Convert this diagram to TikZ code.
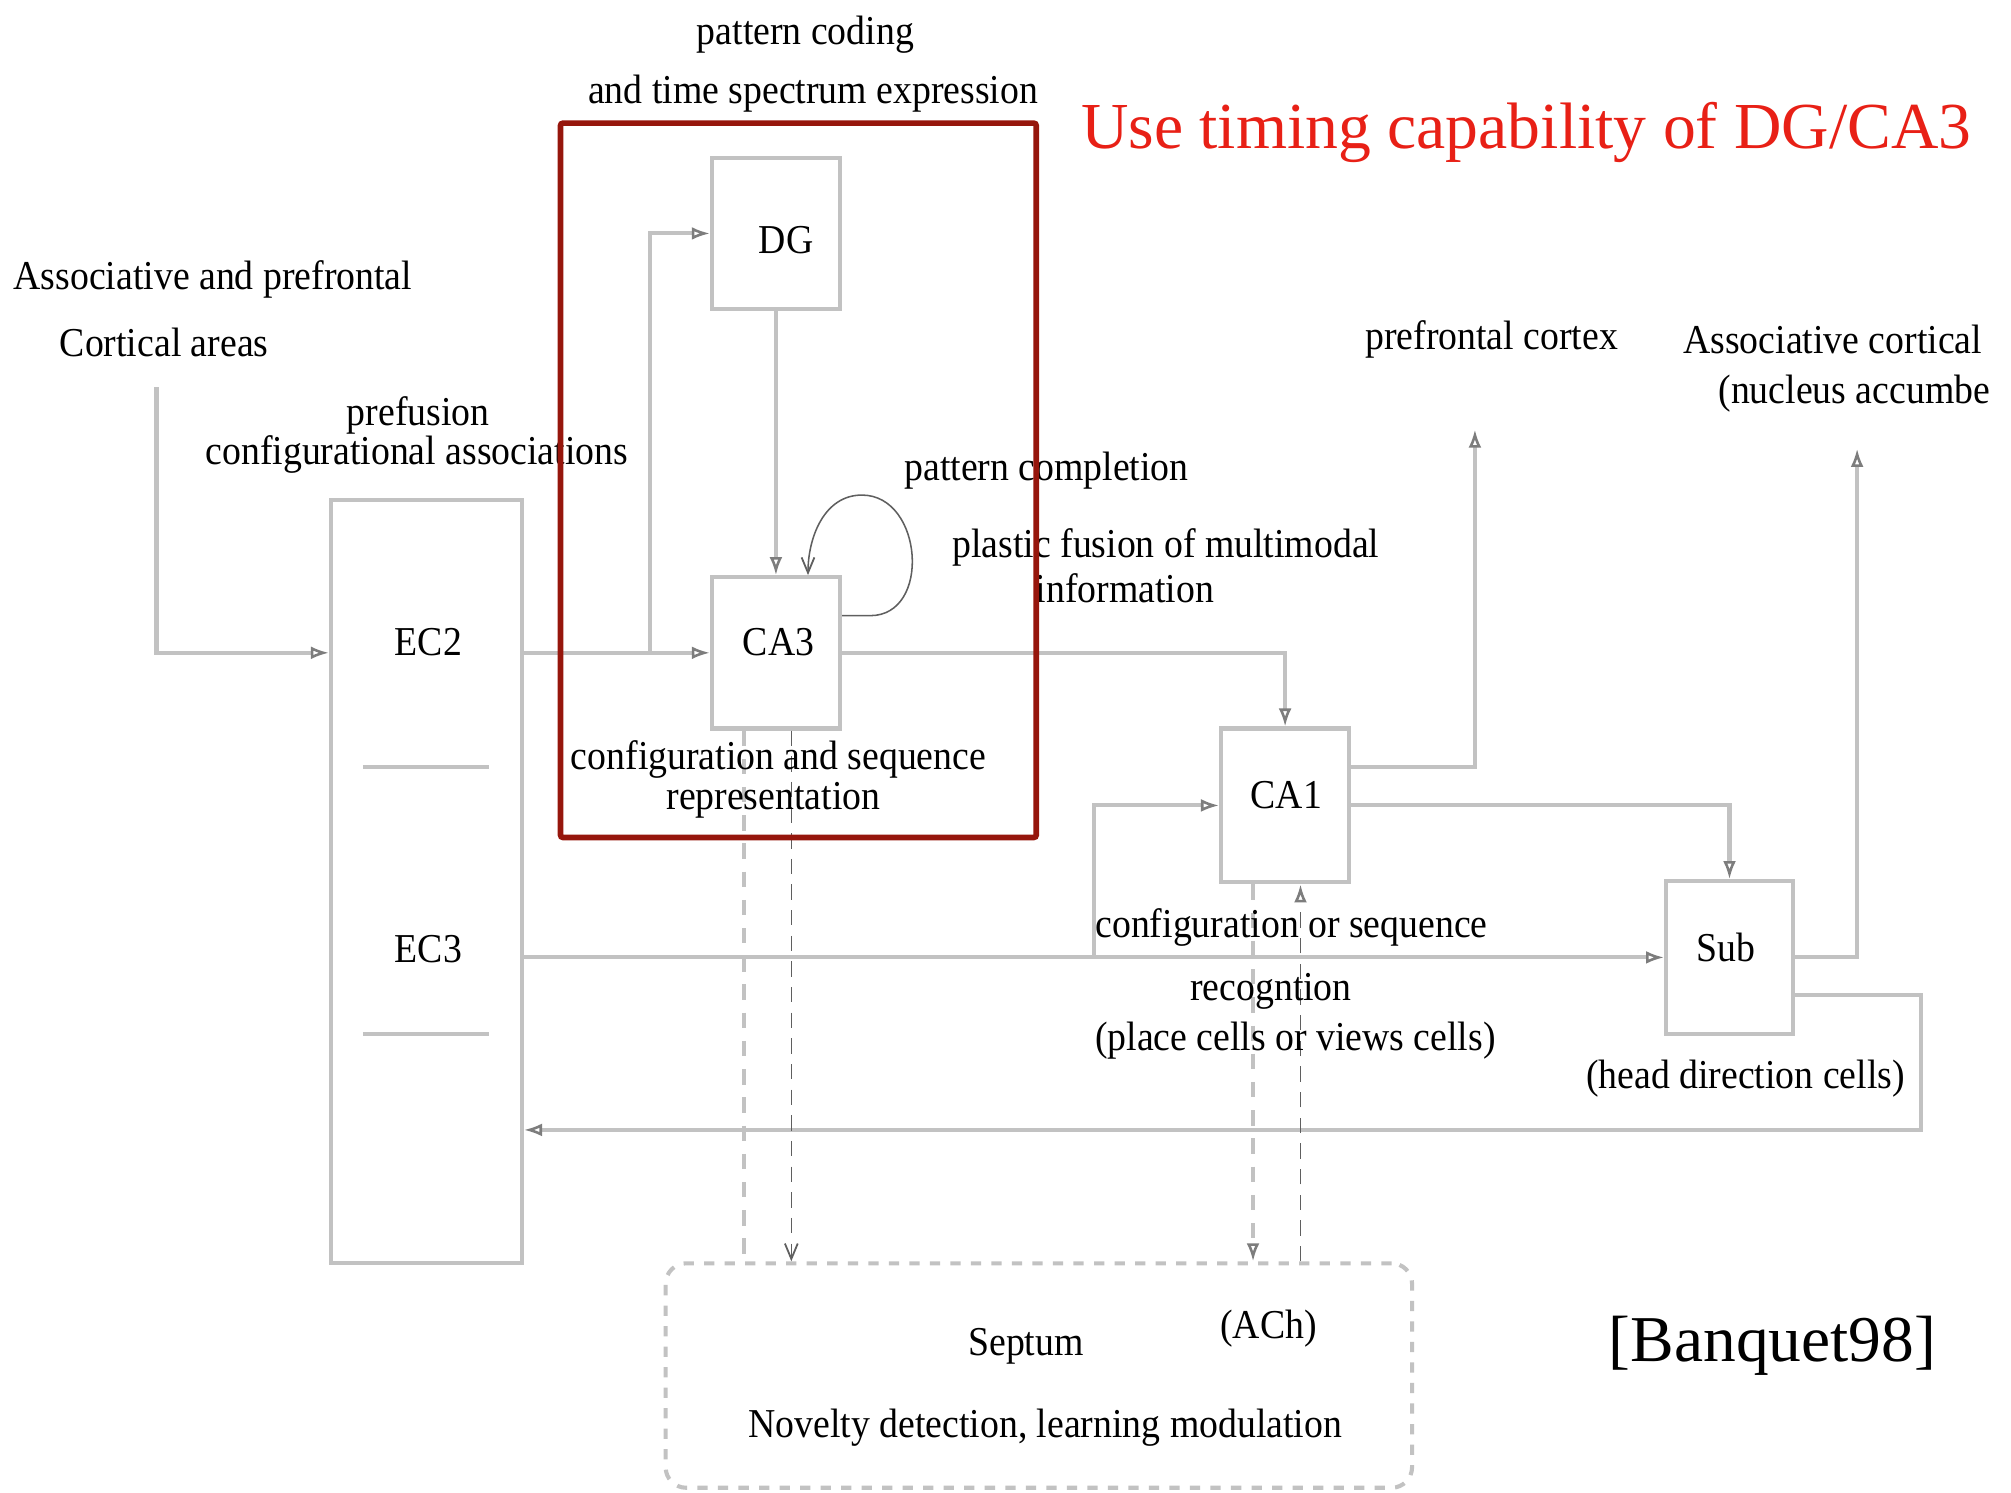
\documentclass[tikz,border=0pt]{standalone}
\usepackage{fontspec}
\setmainfont{Liberation Serif}[FakeStretch=0.92]
\newfontfamily\headfont{Liberation Serif}
\usetikzlibrary{arrows.meta,calc}
\definecolor{linegray}{RGB}{194,194,194}
\definecolor{tipgray}{RGB}{125,125,125}
\definecolor{loopgray}{RGB}{95,95,95}
\definecolor{boxred}{RGB}{150,22,12}
\definecolor{titlered}{RGB}{232,32,22}
\tikzset{
  region/.style={draw=linegray, line width=1.6pt, inner sep=0pt},
  lbl/.style={font=\fontsize{16}{18}\selectfont, inner sep=0pt, text=black, yshift=-1.5pt},
  wire/.style={draw=linegray, line width=1.6pt},
  feed/.style={wire, -{Latex[open, length=7pt, width=5pt, color=tipgray, line width=1pt]}},
  coarsedash/.style={draw=linegray, line width=1.7pt, dash pattern=on 6pt off 5pt},
  finedash/.style={draw=loopgray, line width=0.6pt, dash pattern=on 6pt off 4pt},
  barb/.style={-{Straight Barb[length=6pt, width=5pt, line width=0.7pt]}},
  bigtip/.style={-{Latex[open, length=7pt, width=5pt, color=tipgray, line width=1pt]}},
}
\begin{document}
\begin{tikzpicture}[x=0.5pt, y=-0.5pt]
\useasboundingbox (0,0) rectangle (1568,1164);

% processing stages
\node[region, minimum width=50pt, minimum height=59pt] (DG) at (605,182) {};
\node[region, minimum width=50pt, minimum height=59pt] (CA3) at (605,509) {};
\node[region, minimum width=74.5pt, minimum height=297.5pt] (EC) at (332.5,687.5) {};
\node[region, minimum width=50pt, minimum height=60pt] (CA1) at (1002,628) {};
\node[region, minimum width=49.5pt, minimum height=59.5pt] (Sub) at (1348.5,746.5) {};
\node[draw=linegray, line width=1.6pt, dash pattern=on 4pt off 4pt, rounded corners=8pt,
      minimum width=291pt, minimum height=87.5pt, inner sep=0pt] (Septum) at (810,1072.5) {};

% layer separators of the entorhinal cortex
\draw[wire] (283,598) -- (381,598);
\draw[wire] (283,806) -- (381,806);

% free ends and branch points
\coordinate (cortexsrc) at (122,302);
\coordinate (split) at (507,509);
\coordinate (split2) at (853,746.5);
\coordinate (pfc) at (1150,335);
\coordinate (acx) at (1448,350);
\coordinate (retx) at (1498,881);

% main pathways
\draw[feed] (cortexsrc) |- (EC.west |- CA3.west);
\draw[feed] (EC.east |- CA3.west) -- (CA3.west);
\draw[feed] (split) |- (DG.west);
\draw[feed] (DG.south) -- (CA3.north);
\draw[feed] (CA3.east) -| (CA1.north);
\draw[feed] ($(CA1.east)+(0,-30)$) -| (pfc);
\draw[feed] (CA1.east) -| (Sub.north);
\draw[feed] (EC.east |- Sub.west) -- (Sub.west);
\draw[feed] (split2) |- (CA1.west);
\draw[feed] (Sub.east) -| (acx);
\draw[feed] ($(Sub.east)+(0,29.5)$) -| (retx) -- (EC.east |- retx);

% recurrent collaterals of CA3
\coordinate (loopout) at ($(CA3.east)+(0,-29)$);
\coordinate (loopin) at ($(CA3.north)+(25,0)$);
\coordinate (looptop) at (672,386);
\draw[loopgray, line width=0.6pt, barb] (loopout) -- ++(22,0)
  to[out=0, in=0, looseness=1.3] (looptop) to[out=180, in=90] (loopin);

% septal links
\coordinate (a1) at ($(CA3.south)+(-25,0)$);
\coordinate (a2) at ($(CA3.south)+(12,0)$);
\coordinate (b1) at ($(CA1.south)+(-25,0)$);
\coordinate (b2) at ($(CA1.south)+(12,0)$);
\draw[coarsedash] (a1) -- (a1 |- Septum.north);
\draw[finedash, barb] (a2) -- (a2 |- Septum.north);
\draw[coarsedash, bigtip] (b1) -- (b1 |- Septum.north);
\draw[finedash, bigtip] (b2 |- Septum.north) -- (b2);

% stage names
\node[lbl] (tDG) at (613,184) {DG};
\node[lbl] (tCA3) at (607,498) {CA3};
\node[lbl] (tCA1) at (1003,617) {CA1};
\node[lbl] (tSub) at (1346,736) {Sub};
\node[lbl] (tEC2) at (334,498) {EC2};
\node[lbl] (tEC3) at (334,737) {EC3};
\node[lbl] (tSep) at (800,1047) {Septum};
\node[lbl] (tACh) at (989,1033) {(ACh)};
\node[lbl] (tNov) at (815,1110) {Novelty detection, learning modulation};

% annotations
\node[lbl] (n1) at (628,24) {pattern coding};
\node[lbl] (n2) at (634,70) {and time spectrum expression};
\node[lbl] (n3) at (166,215) {Associative and prefrontal};
\node[lbl] (n4) at (128,264) {Cortical areas};
\node[lbl] (n5) at (326,321) {prefusion};
\node[lbl] (n6) at (325,351) {configurational associations};
\node[lbl] (n7) at (816,364) {pattern completion};
\node[lbl] (n8) at (909,424) {plastic fusion of multimodal};
\node[lbl] (n9) at (877,456) {information};
\node[lbl] (n10) at (607,589) {configuration and sequence};
\node[lbl] (n11) at (603,621) {representation};
\node[lbl] (n12) at (1007,720) {configuration or sequence};
\node[lbl] (n13) at (991,770) {recogntion};
\node[lbl] (n14) at (1010,808) {(place cells or views cells)};
\node[lbl] (n15) at (1361,838) {(head direction cells)};
\node[lbl] (n16) at (1163,262) {prefrontal cortex};
\node[lbl] (n17) at (1429,262) {Associative cortical};
\node[lbl, anchor=east] (n18) at (1552,304) {(nucleus accumbe};

% highlighted DG/CA3 block
\node[draw=boxred, line width=2.2pt, rounded corners=1pt, minimum width=185.5pt,
      minimum height=278.5pt, inner sep=0pt] (focus) at (622.5,374.5) {};

\node[font=\headfont\fontsize{25.6}{30}\selectfont, text=titlered, inner sep=0pt, yshift=-1.5pt] (title) at (1190,100)
  {Use timing capability of DG/CA3};
\node[font=\headfont\fontsize{25.5}{30}\selectfont, inner sep=0pt, yshift=-2pt] (cite) at (1382,1045) {[Banquet98]};
\end{tikzpicture}
\end{document}
